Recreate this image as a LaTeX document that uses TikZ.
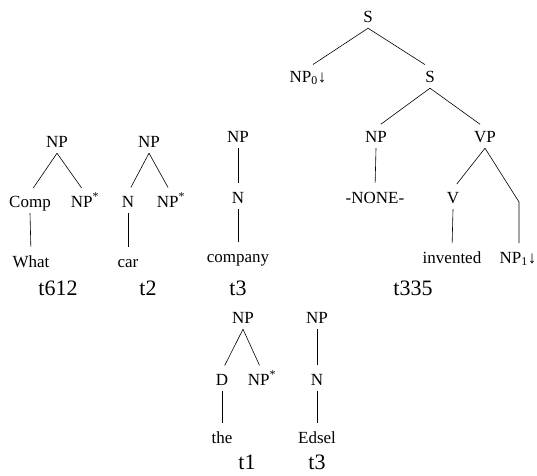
\documentclass[tikz,border=0pt]{standalone}
\usepackage{fontspec}
\setmainfont{Liberation Serif}
\begin{document}
\begin{tikzpicture}[x=1pt,y=-1pt,
  lab/.style={font=\fontsize{17}{20}\selectfont, inner xsep=0pt, inner ysep=2pt, text height=12pt, text depth=4pt, anchor=base},
  capt/.style={font=\fontsize{22}{26}\selectfont, inner sep=0pt, anchor=base},
  br/.style={line width=0.6pt, shorten >=6pt}]
\useasboundingbox (0,0) rectangle (537,475);
% t612
\node[lab] (a1) at (57,147) {NP};
\node[lab] (a2) at (30,207) {Comp};
\node[lab] (a3) at (85,207) {NP\textsuperscript{*}};
\node[lab] (a4) at (31,267) {What};
\node[capt] (ac) at (58,295) {t612};
\draw[br] (a1.south) -- (a2.north);
\draw[br] (a1.south) -- (a3.north);
\draw[br] (a2.south) -- (a4.north);
% t2
\node[lab] (b1) at (149,147) {NP};
\node[lab] (b2) at (128,207) {N};
\node[lab] (b3) at (171,207) {NP\textsuperscript{*}};
\node[lab] (b4) at (128,267) {car};
\node[capt] (bc) at (148,295) {t2};
\draw[br] (b1.south) -- (b2.north);
\draw[br] (b1.south) -- (b3.north);
\draw[br] (b2.south) -- (b4.north);
% t3
\node[lab] (c1) at (238,142) {NP};
\node[lab] (c2) at (238,203) {N};
\node[lab] (c3) at (238,262) {company};
\node[capt] (cc) at (238,295) {t3};
\draw[br] (c1.south) -- (c2.north);
\draw[br] (c2.south) -- (c3.north);
% t335
\node[lab] (d1) at (368,22) {S};
\node[lab] (d2) at (308,82) {NP\textsubscript{0}↓};
\node[lab] (d3) at (430,82) {S};
\node[lab] (d4) at (376,142) {NP};
\node[lab] (d5) at (485,142) {VP};
\node[lab] (d6) at (375,203) {-NONE-};
\node[lab] (d7) at (453,203) {V};
\node[lab] (d8) at (452,263) {invented};
\node[lab] (d9) at (518,263) {NP\textsubscript{1}↓};
\node[capt] (dc) at (413,295) {t335};
\coordinate (vpbend) at (519,202);
\coordinate (np1top) at (519,243);
\draw[br] (d1.south) -- (d2.north);
\draw[br] (d1.south) -- (d3.north);
\draw[br] (d3.south) -- (d4.north);
\draw[br] (d3.south) -- (d5.north);
\draw[br] (d4.south) -- (d6.north);
\draw[br] (d5.south) -- (d7.north);
\draw[br] (d7.south) -- (d8.north);
\draw[line width=0.6pt] (d5.south) -- (vpbend) -- (np1top);
% t1
\node[lab] (e1) at (243,323) {NP};
\node[lab] (e2) at (222,385) {D};
\node[lab] (e3) at (262,385) {NP\textsuperscript{*}};
\node[lab] (e4) at (222,443) {the};
\node[capt] (ec) at (247,469) {t1};
\draw[br] (e1.south) -- (e2.north);
\draw[br] (e1.south) -- (e3.north);
\draw[br] (e2.south) -- (e4.north);
% t3 (Edsel)
\node[lab] (f1) at (317,323) {NP};
\node[lab] (f2) at (317,385) {N};
\node[lab] (f3) at (317,443) {Edsel};
\node[capt] (fc) at (317,469) {t3};
\draw[br] (f1.south) -- (f2.north);
\draw[br] (f2.south) -- (f3.north);
\end{tikzpicture}
\end{document}
